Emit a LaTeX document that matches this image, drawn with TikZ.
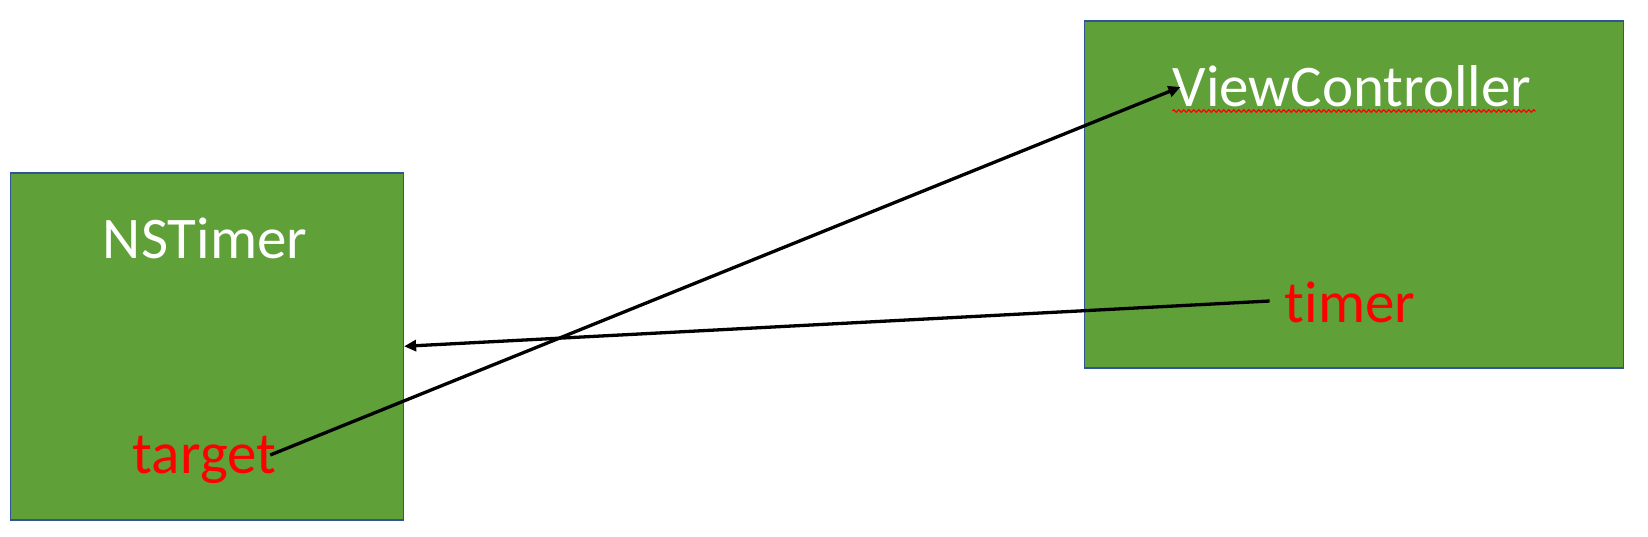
\documentclass[tikz,border=0pt]{standalone}
\usepackage{fontspec}
\setmainfont{Carlito}[Ligatures={NoCommon,NoRare}]
\usetikzlibrary{arrows.meta,decorations.pathmorphing,calc}
\definecolor{boxgreen}{HTML}{5FA138}
\definecolor{boxblue}{HTML}{2F5597}
\definecolor{txtred}{HTML}{FF0000}
\begin{document}
\begin{tikzpicture}[x=1pt,y=-1pt,
  box/.style={draw=boxblue,line width=1.6pt,fill=boxgreen,minimum width=393pt,minimum height=347pt,anchor=north west,inner sep=0pt},
  title/.style={text=white,font=\fontsize{59}{70}\selectfont,inner sep=0pt,anchor=base},
  field/.style={text=txtred,font=\fontsize{59}{70}\selectfont,inner sep=0pt,anchor=base},
  conn/.style={draw=black,line width=3.3pt,-{Triangle[length=12pt,width=11pt]}},
  squiggle/.style={draw=txtred,line width=1.2pt,decorate,decoration={zigzag,segment length=5pt,amplitude=1.3pt}}]
\useasboundingbox (0,0) rectangle (1648,536);
\node[box] (nstimer) at (9.5,172) {};
\node[box,minimum width=539pt] (vcbox) at (1083.5,20) {};
\node[title] (nst) at (205,258) {NSTimer};
\node[field] (target) at (204.5,473) {target};
\node[title] (vc) at (1352,106) {ViewController};
\node[field] (timer) at (1350,322) {timer};
\draw[squiggle] ($(vc.base west)+(0,5)$) -- ($(vc.base east)+(4,5)$);
\coordinate (tstart) at ($(target.base east)+(-6,-18)$);
\coordinate (vcend) at ($(vc.base west)+(8,-19)$);
\coordinate (tmstart) at ($(timer.base west)+(-15,-21)$);
\draw[conn] (tstart) -- (vcend);
\draw[conn] (tmstart) -- (nstimer.east);
\end{tikzpicture}
\end{document}
